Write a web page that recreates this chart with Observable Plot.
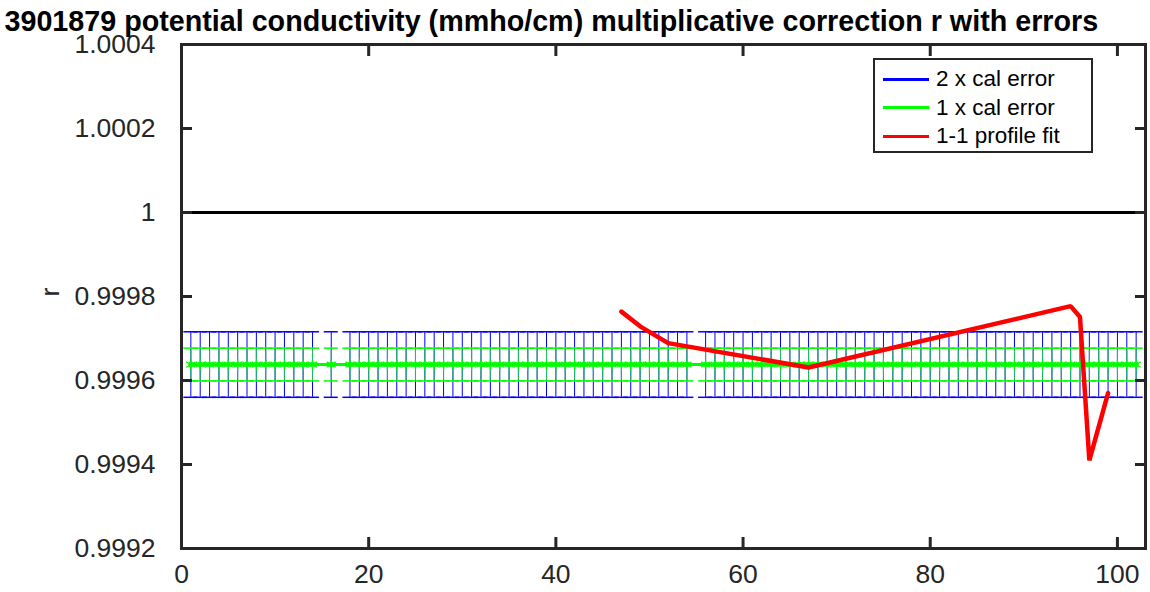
<!DOCTYPE html>
<html>
<head>
<meta charset="utf-8">
<script src="https://cdn.jsdelivr.net/npm/d3@7"></script>
<script src="https://cdn.jsdelivr.net/npm/@observablehq/plot@0.6"></script>
<style>
  html, body { margin: 0; padding: 0; background: #fff; }
  #wrap { position: relative; width: 1150px; height: 592px; font-family: "Liberation Sans", Arial, sans-serif; }
  #legend { position: absolute; left: 873px; top: 58px; width: 216px; height: 91px; border: 2.5px solid #262626; background: #fff; }
  .row { position: absolute; left: 0; height: 28px; display: flex; align-items: center; font-size: 22.5px; color: #000; }
  .sw { display: inline-block; width: 46px; height: 3px; margin-left: 8px; margin-right: 7px; }
</style>
</head>
<body>
<div id="wrap"></div>
<script>
// ---- data ----
const title = "3901879 potential conductivity (mmho/cm) multiplicative correction r with errors";
const yLabel = "r";
const profiles = [1,2,3,4,5,6,7,8,9,10,11,12,13,14,16,18,19,20,21,22,23,24,25,26,27,28,29,30,31,32,33,34,35,36,37,38,39,40,41,42,43,44,45,46,47,48,49,50,51,52,53,54,56,57,58,59,60,61,62,63,64,65,66,67,68,69,70,71,72,73,74,75,76,77,78,79,80,81,82,83,84,85,86,87,88,89,90,91,92,93,94,95,96,97,98,99,100,101,102];
const calR = 0.999638;      // calibration r (same for all profiles)
const calErr = 0.000039;    // 1 x cal error
const fitProfiles = [47, 49, 52, 67, 95, 96, 97, 99];
const fitR = [0.999764, 0.999729, 0.999689, 0.999631, 0.999777, 0.999751, 0.999410, 0.999570];
const xTicks = [0, 20, 40, 60, 80, 100];
const yTicks = [0.9992, 0.9994, 0.9996, 0.9998, 1.0000, 1.0002, 1.0004];
const legendItems = [
  {label: "2 x cal error", color: "#0000ff"},
  {label: "1 x cal error", color: "#00ff00"},
  {label: "1-1 profile fit", color: "#ff0000"}
];

// ---- tables ----
const cal = profiles.map(p => ({p, r: calR, e: calErr}));
const fit = fitProfiles.map((p, i) => ({p, r: fitR[i]}));
const cap = 0.75; // half cap width in profile units

const axisColor = "#262626";
const fmt = d => String(+d.toFixed(4));

const chart = Plot.plot({
  width: 1150,
  height: 592,
  marginLeft: 181,
  marginRight: 5,
  marginTop: 44,
  marginBottom: 44,
  style: {fontFamily: "'Liberation Sans', Arial, sans-serif", background: "#fff"},
  x: {domain: [0, 103]},
  y: {domain: [0.9992, 1.0004]},
  marks: [
    // 2 x cal error (blue)
    Plot.ruleX(cal, {x: "p", y1: d => d.r - 2 * d.e, y2: d => d.r + 2 * d.e, stroke: "#0000ff", strokeWidth: 1}),
    Plot.ruleY(cal, {y: d => d.r - 2 * d.e, x1: d => d.p - cap, x2: d => d.p + cap, stroke: "#0000ff", strokeWidth: 1.5}),
    Plot.ruleY(cal, {y: d => d.r + 2 * d.e, x1: d => d.p - cap, x2: d => d.p + cap, stroke: "#0000ff", strokeWidth: 1.5}),
    // 1 x cal error (green)
    Plot.ruleX(cal, {x: "p", y1: d => d.r - d.e, y2: d => d.r + d.e, stroke: "#1fbf5f", strokeWidth: 1}),
    Plot.ruleY(cal, {y: d => d.r - d.e, x1: d => d.p - cap, x2: d => d.p + cap, stroke: "#00ff00", strokeWidth: 1.5}),
    Plot.ruleY(cal, {y: d => d.r + d.e, x1: d => d.p - cap, x2: d => d.p + cap, stroke: "#00ff00", strokeWidth: 1.5}),
    Plot.lineY(cal, {x: "p", y: "r", stroke: "#00ff00", strokeWidth: 3}),
    Plot.dot(cal, {x: "p", y: "r", symbol: "asterisk", r: 5, stroke: "#00ff00", strokeWidth: 1.2}),
    Plot.dot(cal, {x: "p", y: "r", r: 2.5, stroke: "#00ff00", strokeWidth: 1}),
    // r = 1 reference
    Plot.ruleY([1], {stroke: "#000", strokeWidth: 3}),
    // 1-1 profile fit
    Plot.lineY(fit, {x: "p", y: "r", stroke: "#ff0000", strokeWidth: 4.5, strokeLinejoin: "miter"}),
    // box + ticks
    Plot.frame({stroke: axisColor, strokeWidth: 3}),
    Plot.axisX(xTicks, {anchor: "bottom", tickSize: -11, tickPadding: 27, fontSize: 26.5, stroke: axisColor, fill: axisColor, strokeWidth: 3, label: null, tickFormat: d => String(d)}),
    Plot.axisX(xTicks, {anchor: "top", tickSize: -11, strokeWidth: 3, stroke: axisColor, label: null, tickFormat: () => ""}),
    Plot.axisY(yTicks, {anchor: "left", tickSize: -11, tickPadding: 37, fontSize: 26.5, stroke: axisColor, fill: axisColor, strokeWidth: 3, label: null, tickFormat: fmt}),
    Plot.axisY(yTicks, {anchor: "right", tickSize: -11, strokeWidth: 3, stroke: axisColor, label: null, tickFormat: () => ""}),
    // y label and title
    Plot.text([yLabel], {frameAnchor: "left", dx: -131, rotate: -90, fontSize: 26.5, fill: axisColor}),
    Plot.text([title], {frameAnchor: "top-left", dx: -177, dy: -23, textAnchor: "start", lineAnchor: "middle", fontSize: 28.7, fontWeight: "bold", fill: "#000"})
  ]
});

const wrap = document.getElementById("wrap");
wrap.appendChild(chart);

const legend = document.createElement("div");
legend.id = "legend";
legendItems.forEach((it, i) => {
  const row = document.createElement("div");
  row.className = "row";
  row.style.top = (5 + i * 28.5) + "px";
  const sw = document.createElement("span");
  sw.className = "sw";
  sw.style.background = it.color;
  const tx = document.createElement("span");
  tx.textContent = it.label;
  row.appendChild(sw);
  row.appendChild(tx);
  legend.appendChild(row);
});
wrap.appendChild(legend);
</script>
</body>
</html>
